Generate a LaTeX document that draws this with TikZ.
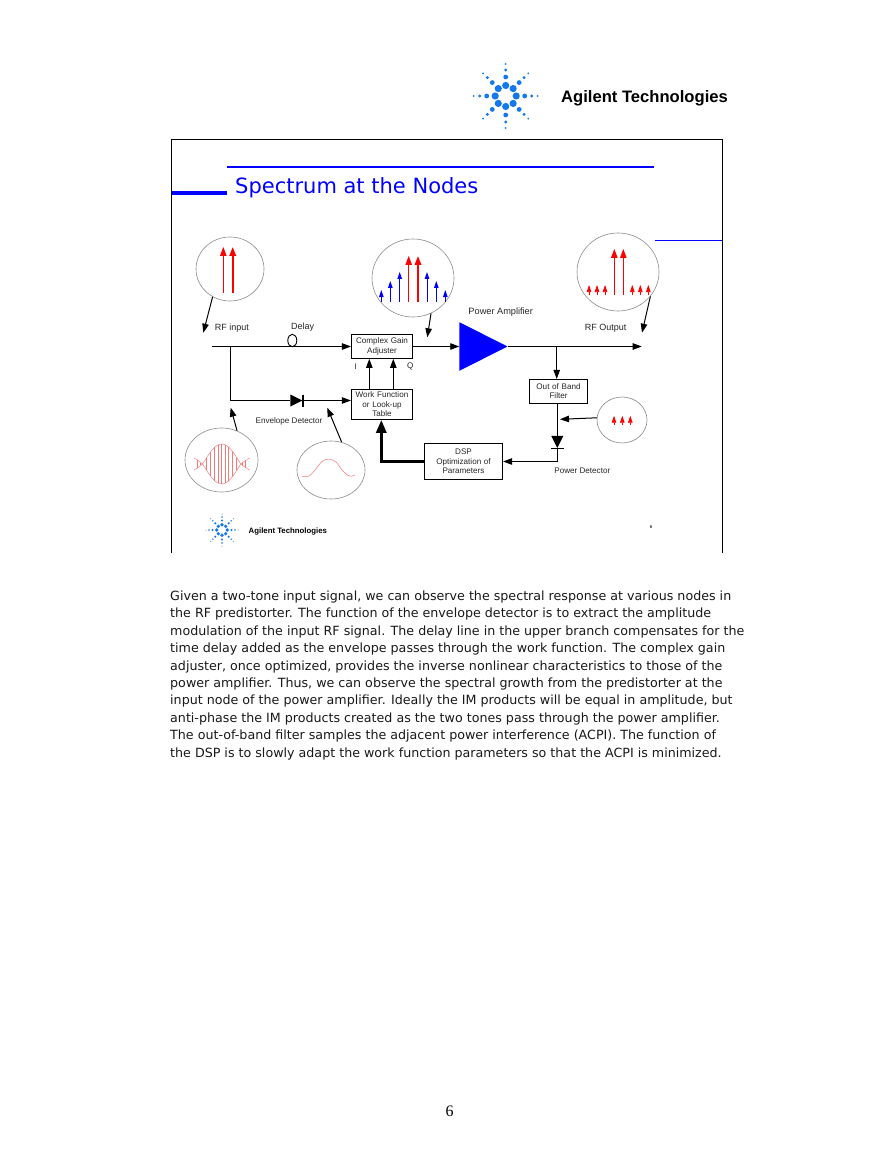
\documentclass[tikz,border=0pt]{standalone}
\usepackage{fontspec}
\usetikzlibrary{arrows.meta,shapes.geometric}
\setmainfont{Liberation Sans}
\newfontfamily\bodyfont{DejaVu Sans}
\newfontfamily\pagefont{Liberation Serif}
\definecolor{logoblue}{RGB}{20,120,235}
\definecolor{wavered}{RGB}{245,120,120}
\tikzset{
  small label/.style={inner sep=0pt,font=\fontsize{8.1}{9.6}\selectfont,align=center,text=black!85},
  wide label/.style={small label,font=\fontsize{9}{10}\selectfont},
  lens/.style={draw=black!45,line width=0.6pt,ellipse,inner sep=0pt},
  wire/.style={line width=0.9pt,-{Triangle[length=9pt,width=6.5pt]}},
  plainwire/.style={line width=0.9pt},
  callout/.style={line width=1pt,-{Triangle[length=9pt,width=6.5pt]}},
  diode/.style={isosceles triangle,isosceles triangle stretches,fill=black,inner sep=0pt,anchor=apex,minimum width=12pt,minimum height=12pt},
  brand/.style={inner sep=0pt,anchor=west},
  big tone/.style={-{Triangle[length=9pt,width=6.5pt]}},
  small tone/.style={-{Triangle[length=7pt,width=4.5pt]}}
}
\newcommand{\logostar}[3]{%
  \foreach \ang in {0,45,...,315}
    \foreach \rad/\blob in {10.5/3.6,19/2.4,26/1.6,32/1}
      \fill[logoblue] (#1,#2) ++(\ang:#3*\rad pt) circle ({#3*\blob pt});
}
\begin{document}
\begin{tikzpicture}[x=1pt,y=-1pt]
  \useasboundingbox (0,0) rectangle (893,1155);
  \fill[white] (0,0) rectangle (893,1155);

  \logostar{505.7}{96}{1}
  \node[brand,font=\bfseries\fontsize{16.6}{18}\selectfont] (brandtop) at (561,98) {Agilent Technologies};

  \draw[line width=0.9pt] (171,553) -- (171,139) -- (722,139) -- (722,553);
  \draw[blue,line width=2pt] (227,167) -- (654,167);
  \draw[blue,line width=4pt] (172,193) -- (227,193);
  \draw[blue,line width=1pt] (655,240.5) -- (722,240.5);
  \node[inner sep=0pt,anchor=west,text=blue,font=\bodyfont\fontsize{21}{26}\selectfont] (title) at (235,188) {Spectrum at the Nodes};

  \node[lens,minimum width=68pt,minimum height=64pt] (lensIn) at (230,269) {};
  \node[lens,minimum width=82pt,minimum height=78pt] (lensPre) at (413,278) {};
  \node[lens,minimum width=82pt,minimum height=78pt] (lensOut) at (618,272) {};
  \node[lens,minimum width=50pt,minimum height=46pt] (lensAcp) at (622,420) {};
  \node[lens,minimum width=73pt,minimum height=64pt] (lensRf) at (221.5,460) {};
  \node[lens,minimum width=68pt,minimum height=58pt] (lensEnv) at (331,470) {};

  \draw[red,big tone,line width=0.9pt] (223.3,292.5) -- (223.3,247);
  \draw[red,big tone,line width=1.9pt] (232.7,292.5) -- (232.7,247);

  \foreach \x/\t in {381.3/290,390.3/281,399.7/272,427/272,436.3/281,445.3/290}
    \draw[blue,small tone,line width=0.9pt] (\x,301.7) -- (\x,\t);
  \draw[red,big tone,line width=0.9pt] (408.7,301.7) -- (408.7,256);
  \draw[red,big tone,line width=1.9pt] (418,301.7) -- (418,256);

  \foreach \x in {614.3,623.3}
    \draw[red,big tone,line width=0.9pt] (\x,295) -- (\x,249);
  \foreach \x in {589,597,605,632.3,640.3,648.3}
    \draw[red,small tone,line width=0.7pt] (\x,295) -- (\x,285);
  \foreach \x in {614,622.3,630.3}
    \draw[red,small tone,line width=0.7pt] (\x,425) -- (\x,415.7);

  \begin{scope}[shift={(221.7,464)},wavered,line width=0.45pt]
    \draw plot[domain=-28:28,samples=90,smooth] (\x,{(abs(\x)<19?20:9)*abs(cos(90*\x/19))});
    \draw plot[domain=-28:28,samples=90,smooth] (\x,{-(abs(\x)<19?20:9)*abs(cos(90*\x/19))});
    \foreach \t in {-15,-11,-7,-3.5,0,3.5,7,11,15}
      \draw (\t,{-20*cos(90*\t/19)}) -- (\t,{20*cos(90*\t/19)});
    \foreach \t in {-24,-21,21,24}
      \draw (\t,{-9*abs(cos(90*\t/19))}) -- (\t,{9*abs(cos(90*\t/19))});
  \end{scope}
  \draw[wavered,line width=0.5pt] plot[smooth] coordinates {(302,476.7) (309,476) (315,470) (322,461.5) (329,459) (336,462) (342,470) (348,475.5) (351,476.3) (355,475)};

  \coordinate (inStart) at (211.7,346.5);
  \coordinate (inJoin) at (230.3,346.5);
  \coordinate (outEnd) at (641.7,346.5);
  \coordinate (outJoin) at (556.7,346.5);
  \coordinate (pwrCorner) at (557.3,461.5);
  \coordinate (dspCorner) at (381.3,461.5);
  \coordinate (iBase) at (369.3,389.5);
  \coordinate (qBase) at (393.3,389.5);

  \node[small label,text width=61.4pt,draw,line width=0.8pt,minimum height=24pt] (cga) at (382,346.5) {Complex Gain\\Adjuster};
  \node[small label,text width=61.4pt,draw,line width=0.8pt,minimum height=30pt] (work) at (382,404.5) {Work Function\\or Look-up\\Table};
  \node[small label,text width=58.4pt,draw,line width=0.8pt,minimum height=24pt] (filter) at (558.5,391.3) {Out of Band\\Filter};
  \node[small label,text width=78.4pt,draw,line width=0.8pt,minimum height=36pt] (dsp) at (463.5,461.5) {DSP\\Optimization of\\Parameters};
  \node[isosceles triangle,isosceles triangle stretches,fill=blue,inner sep=0pt,anchor=apex,minimum width=48.5pt,minimum height=48pt] (amp) at (508,346.5) {};
  \node[draw,ellipse,line width=0.9pt,inner sep=0pt,minimum width=9pt,minimum height=12.5pt] (delay) at (292.3,340.5) {};
  \node[diode] (envDiode) at (303,400.5) {};
  \node[diode,shape border rotate=-90] (pwrDiode) at (557.3,448.5) {};

  \draw[wire] (inStart) -- (cga.west);
  \draw[wire] (cga.east) -- (amp.west);
  \draw[wire] (amp.apex) -- (outEnd);
  \draw[wire] (outJoin) -- (outJoin |- filter.north);
  \draw[plainwire] (inJoin) -- (inJoin |- envDiode) -- (envDiode);
  \draw[wire] (envDiode.apex) -- (work.west |- envDiode);
  \draw[line width=2pt] (303,394.5) -- (303,406.5);
  \draw[wire] (iBase) -- (iBase |- cga.south);
  \draw[wire] (qBase) -- (qBase |- cga.south);
  \draw[plainwire] (filter.south -| pwrCorner) -- (pwrDiode);
  \draw[line width=1pt] (551,448.5) -- (563.6,448.5);
  \draw[wire] (pwrDiode.apex) -- (pwrCorner) -- (dsp.east);
  \draw[line width=3pt,-{Triangle[length=13pt,width=10pt]}] (dsp.west) -- (dspCorner) -- (work.south -| dspCorner);

  \coordinate (inTip) at (203.3,332.7);
  \coordinate (preTip) at (427.3,337.3);
  \coordinate (outTip) at (642,332.7);
  \coordinate (acpTip) at (560,419.3);
  \coordinate (rfTip) at (230.7,407.7);
  \coordinate (envTip) at (327.3,407.7);
  \draw[callout] (lensIn.238) -- (inTip);
  \draw[callout] (lensPre.-63) -- (preTip);
  \draw[callout] (lensOut.-37) -- (outTip);
  \draw[callout] (lensAcp.175) -- (acpTip);
  \draw[callout] (lensRf.62) -- (rfTip);
  \draw[callout] (lensEnv.69) -- (envTip);

  \node[wide label] (labRfIn) at (231.8,328.5) {RF input};
  \node[wide label] (labDelay) at (302.7,327) {Delay};
  \node[small label] (labI) at (355.7,366.5) {I};
  \node[small label] (labQ) at (410.3,366.5) {Q};
  \node[small label] (labEnv) at (289,421.5) {Envelope Detector};
  \node[wide label,font=\fontsize{9.2}{10}\selectfont] (labAmp) at (500.7,312.5) {Power Amplifier};
  \node[wide label] (labRfOut) at (605.7,328.5) {RF Output};
  \node[small label] (labPwr) at (582.3,470.5) {Power Detector};

  \logostar{222}{530}{0.5}
  \node[brand,font=\bfseries\fontsize{7.8}{9}\selectfont] (brandlow) at (248.5,531) {Agilent Technologies};
  \node[inner sep=0pt,font=\fontsize{4.5}{5}\selectfont] (slideno) at (651,527) {6};

  \node[inner sep=0pt,anchor=north west,align=left,text=black!90,font=\bodyfont\fontsize{12.67}{17.44}\selectfont] (bodytext) at (170,590.5) {Given a two-tone input signal, we can observe the spectral response at various nodes in\\
the RF predistorter.  The function of the envelope detector is to extract the amplitude\\
modulation of the input RF signal.  The delay line in the upper branch compensates for the\\
time delay added as the envelope passes through the work function.  The complex gain\\
adjuster, once optimized, provides the inverse nonlinear characteristics to those of the\\
power amplifier.  Thus, we can observe the spectral growth from the predistorter at the\\
input node of the power amplifier.  Ideally the IM products will be equal in amplitude, but\\
anti-phase the IM products created as the two tones pass through the power amplifier.\\
The out-of-band filter samples the adjacent power interference (ACPI).  The function of\\
the DSP is to slowly adapt the work function parameters so that the ACPI is minimized.};
  \node[inner sep=0pt,font=\pagefont\fontsize{16}{18}\selectfont] (pageno) at (449.5,1111) {6};
\end{tikzpicture}
\end{document}
